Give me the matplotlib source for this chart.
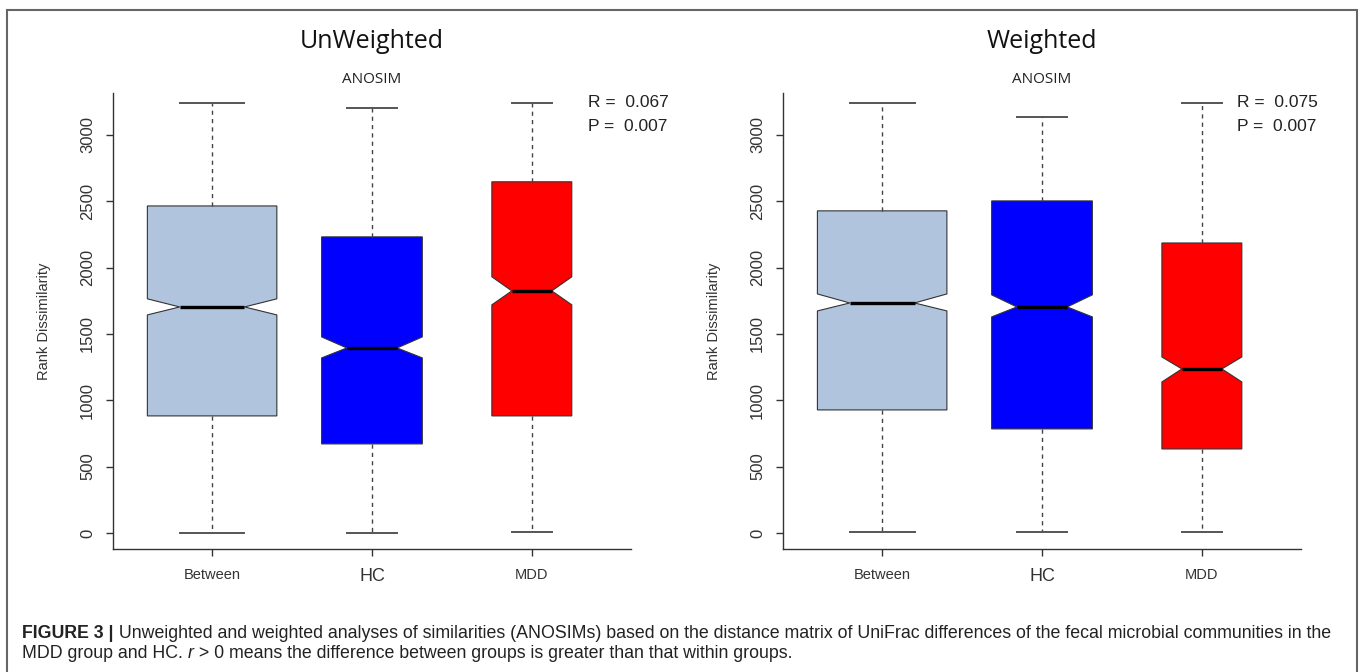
import numpy as np
import matplotlib
matplotlib.use("Agg")
import matplotlib.pyplot as plt
from matplotlib.patches import Rectangle

plt.rcParams['font.family'] = ['Liberation Sans', 'DejaVu Sans']

groups = ["Between", "HC", "MDD"]
box_colors = ["#B0C4DE", "#0000FF", "#FF0000"]
box_widths = [0.81, 0.63, 0.50]
label_sizes = [10.5, 13, 10.5]

# UnWeighted ANOSIM (rank dissimilarity)
unw_whislo = [0, 0, 8]
unw_q1 = [882, 671, 882]
unw_med = [1703, 1394, 1824]
unw_q3 = [2464, 2231, 2646]
unw_whishi = [3240, 3203, 3241]
unw_cilo = [1643, 1319, 1719]
unw_cihi = [1764, 1477, 1930]
unw_stats = ["R =  0.067", "P =  0.007"]

# Weighted ANOSIM
w_whislo = [10, 5, 5]
w_q1 = [927, 784, 633]
w_med = [1733, 1703, 1236]
w_q3 = [2427, 2502, 2185]
w_whishi = [3240, 3135, 3240]
w_cilo = [1673, 1628, 1138]
w_cihi = [1801, 1794, 1326]
w_stats = ["R =  0.075", "P =  0.007"]

yticks = [0, 500, 1000, 1500, 2000, 2500, 3000]


def make_stats(lo, q1, med, q3, hi, cilo, cihi):
    out = []
    for i in range(len(groups)):
        out.append(dict(whislo=lo[i], q1=q1[i], med=med[i], q3=q3[i], whishi=hi[i],
                        cilo=cilo[i], cihi=cihi[i], fliers=[], label=groups[i]))
    return out


def draw_panel(ax, stats, title, rp_text, rp_x):
    bp = ax.bxp(stats, positions=[1, 2, 3], widths=box_widths, shownotches=True,
                patch_artist=True, showfliers=False,
                boxprops=dict(edgecolor="#333333", linewidth=0.8),
                medianprops=dict(color="black", linewidth=2.4),
                whiskerprops=dict(color="#444444", linewidth=1.0, linestyle=(0, (3, 3))),
                capprops=dict(color="#555555", linewidth=1.4))
    for patch, c in zip(bp["boxes"], box_colors):
        patch.set_facecolor(c)
    ax.set_xlim(0.38, 3.62)
    ax.set_ylim(-121, 3317)
    ax.spines["top"].set_visible(False)
    ax.spines["right"].set_visible(False)
    for s in ["left", "bottom"]:
        ax.spines[s].set_color("#333333")
        ax.spines[s].set_linewidth(1.0)
    ax.set_yticks(yticks)
    ax.set_yticklabels([str(v) for v in yticks], rotation=90, va="center", fontsize=12, color="#333333")
    ax.tick_params(axis="y", length=5, width=1, color="#333333", pad=8)
    ax.set_xticks([1, 2, 3])
    ax.set_xticklabels(groups, color="#333333")
    for lab, fs in zip(ax.get_xticklabels(), label_sizes):
        lab.set_fontsize(fs)
    ax.tick_params(axis="x", length=5, width=1, color="#333333", pad=9)
    ax.set_ylabel("Rank Dissimilarity", fontsize=10.5, color="#333333")
    ax.yaxis.set_label_coords(-0.12, 0.5)
    ax.text(0.5, 1.112, title, transform=ax.transAxes, ha="center", va="center",
            fontsize=18, family="Open Sans", color="#111111")
    ax.text(0.5, 1.029, "ANOSIM", transform=ax.transAxes, ha="center", va="center",
            fontsize=11, family="Open Sans", color="#222222")
    ax.text(rp_x, 3241, rp_text[0], ha="left", va="center", fontsize=12.5, color="#222222")
    ax.text(rp_x, 3060, rp_text[1], ha="left", va="center", fontsize=12.5, color="#222222")


fig = plt.figure(figsize=(13.63, 6.72), dpi=100)
ax1 = fig.add_axes([0.0829, 0.183, 0.380, 0.679])
ax2 = fig.add_axes([0.5745, 0.183, 0.380, 0.679])

draw_panel(ax1, make_stats(unw_whislo, unw_q1, unw_med, unw_q3, unw_whishi, unw_cilo, unw_cihi),
           "UnWeighted", unw_stats, 3.35)
draw_panel(ax2, make_stats(w_whislo, w_q1, w_med, w_q3, w_whishi, w_cilo, w_cihi),
           "Weighted", w_stats, 3.22)

# outer frame
fig.patches.append(Rectangle((7 / 1363, -0.01), 1350 / 1363, 1 - 10 / 672 + 0.01,
                             transform=fig.transFigure, fill=False,
                             edgecolor="#666666", linewidth=1.5))

# caption, placed piece by piece
renderer = fig.canvas.get_renderer()


def put_line(x, y, pieces, size=12.8):
    for s, kw in pieces:
        t = fig.text(x, y, s, fontsize=size, va="baseline", color="#222222", **kw)
        bb = t.get_window_extent(renderer=renderer)
        x += bb.width / fig.bbox.width


put_line(22 / 1363, 1 - 638 / 672, [
    ("FIGURE 3 |", dict(fontweight="bold")),
    (" Unweighted and weighted analyses of similarities (ANOSIMs) based on the distance matrix of "
     "UniFrac differences of the fecal microbial communities in the", {}),
])
put_line(22 / 1363, 1 - 658 / 672, [
    ("MDD group and HC. ", {}),
    ("r", dict(style="italic")),
    (" > 0 means the difference between groups is greater than that within groups.", {}),
])

fig.savefig("out.png", dpi=100)
